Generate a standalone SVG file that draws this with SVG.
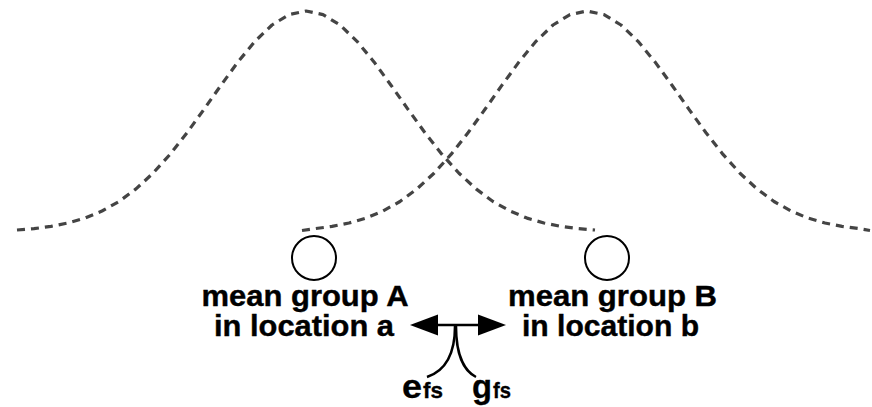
<svg xmlns="http://www.w3.org/2000/svg" width="872" height="407" viewBox="0 0 872 407">
<style>
.dist{fill:none;stroke:#444;stroke-width:3.2;stroke-dasharray:8 6;stroke-linejoin:round}
.mean{fill:#fff;stroke:#000;stroke-width:2}
.lbl{font-family:"Liberation Sans",Arial,Helvetica,sans-serif;font-weight:bold;fill:#000;text-anchor:middle;font-size:29px;stroke:#000;stroke-width:0.4}
.sym{font-family:"Liberation Sans",Arial,Helvetica,sans-serif;font-weight:bold;fill:#000;stroke:#000;stroke-width:0.3}
.conn{fill:none;stroke:#000;stroke-width:2.5}
.head{fill:#000}
</style>
<rect width="872" height="407" fill="#fff"/>
<g id="distribution-A">
<polyline class="dist" points="17,230 34,228.6 51,226.4 68,223 85,218.1 102,211 119,201.5 136,188.9 153,173.2 170,154.4 187,132.8 204,109.3 221,85.2 238,61.9 255,41.3 272,25 289,14.6 306,11 323,14.6 340,25 357,41.3 374,61.9 391,85.2 408,109.3 425,132.8 442,154.4 459,173.2 476,188.9 493,201.5 510,211 527,218.1 544,223 561,226.4 578,228.6 595,230"/>
</g>
<g id="distribution-B">
<polyline class="dist" points="302,230.5 315,228.6 332,226.4 349,223 366,218.1 383,211 400,201.5 417,188.9 434,173.2 451,154.4 468,132.8 485,109.3 502,85.2 519,61.9 536,41.3 553,25 570,14.6 587,11 604,14.6 621,25 638,41.3 655,61.9 672,85.2 689,109.3 706,132.8 723,154.4 740,173.2 757,188.9 774,201.5 791,211 808,218.1 825,223 842,226.4 859,228.6 870,230.5"/>
</g>
<g id="mean-A">
<circle class="mean" cx="314" cy="258" r="22"/>
<text class="lbl" x="305" y="306" textLength="207" lengthAdjust="spacingAndGlyphs">mean group A</text>
<text class="lbl" x="304" y="336" textLength="180" lengthAdjust="spacingAndGlyphs">in location a</text>
</g>
<g id="mean-B">
<circle class="mean" cx="607" cy="258" r="22"/>
<text class="lbl" x="612.5" y="306" textLength="209" lengthAdjust="spacingAndGlyphs">mean group B</text>
<text class="lbl" x="610.5" y="336" textLength="177" lengthAdjust="spacingAndGlyphs">in location b</text>
</g>
<g id="connectors">
<line class="conn" x1="436" y1="325" x2="480" y2="325"/>
<polygon class="head" points="410,325 438,314.5 438,335.5"/>
<polygon class="head" points="506,325 478,314.5 478,335.5"/>
<path class="conn" d="M455,326 C455,358 442,372 427,377"/>
<path class="conn" d="M456,326 C456,358 466,372 476,377"/>
</g>
<g id="label-efs">
<text class="sym" x="402" y="398" font-size="33" textLength="20" lengthAdjust="spacingAndGlyphs">e</text>
<text class="sym" x="423" y="398" font-size="22" textLength="20" lengthAdjust="spacingAndGlyphs">fs</text>
</g>
<g id="label-gfs">
<text class="sym" x="472" y="398" font-size="33" textLength="20" lengthAdjust="spacingAndGlyphs">g</text>
<text class="sym" x="493" y="398" font-size="22" textLength="18" lengthAdjust="spacingAndGlyphs">fs</text>
</g>
</svg>
